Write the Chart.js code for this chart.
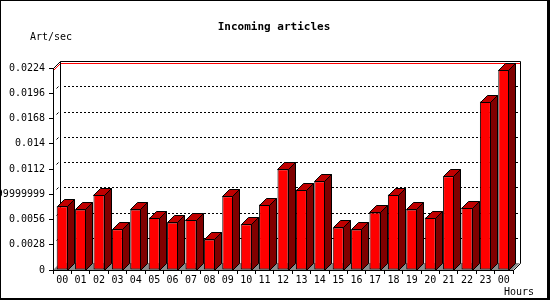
<!DOCTYPE html>
<html>
<head>
<meta charset="utf-8">
<script src="https://cdn.jsdelivr.net/npm/chart.js@4/dist/chart.umd.min.js"></script>
<style>
  html, body { margin: 0; padding: 0; background: #fff; }
  #wrap { width: 550px; height: 300px; }
</style>
</head>
<body>
<div id="wrap"><canvas id="c" width="550" height="300"></canvas></div>
<script>
const titleText = 'Incoming articles';
const yAxisTitle = 'Art/sec';
const xAxisTitle = 'Hours';
const hourLabels = ['00','01','02','03','04','05','06','07','08','09','10','11','12','13','14','15','16','17','18','19','20','21','22','23','00'];
const articlesPerSec = [0.00707,0.00671,0.00836,0.00453,0.00671,0.00582,0.00527,0.00560,0.00339,0.00818,0.00508,0.00726,0.01116,0.00892,0.00983,0.00472,0.00450,0.00638,0.00836,0.00671,0.00582,0.01039,0.00693,0.01868,0.02220];
const yTickValues = [0,0.0028,0.0056,0.0084,0.0112,0.014,0.0168,0.0196,0.0224];
const yTickLabels = ['0','0.0028','0.0056','0.00839999999999','0.0112','0.014','0.0168','0.0196','0.0224'];

const DEPTH = 7;
const MONO = '"DejaVu Sans Mono", monospace';

function px(v) { return Math.round(v) + 0.5; }

const backPlanePlugin = {
  id: 'backPlane',
  beforeDraw(chart) {
    const ctx = chart.ctx;
    const a = chart.chartArea;
    const y = chart.scales.y;
    const L = Math.round(a.left), R = Math.round(a.right), B = Math.round(a.bottom);
    const topY = Math.round(y.getPixelForValue(yTickValues[yTickValues.length - 1]));
    ctx.save();
    ctx.fillStyle = '#fff';
    ctx.fillRect(0, 0, chart.width, chart.height);
    // floor
    ctx.fillStyle = '#8c8c8c';
    ctx.beginPath();
    ctx.moveTo(L, B);
    ctx.lineTo(R, B);
    ctx.lineTo(R + DEPTH, B - DEPTH);
    ctx.lineTo(L + DEPTH, B - DEPTH);
    ctx.closePath();
    ctx.fill();
    ctx.strokeStyle = '#000';
    ctx.lineWidth = 1;
    ctx.beginPath();
    ctx.moveTo(R + 0.5, B + 0.5);
    ctx.lineTo(R + DEPTH + 0.5, B - DEPTH + 0.5);
    ctx.stroke();
    // dotted grid lines on back plane
    ctx.setLineDash([2, 2]);
    for (let i = 1; i < yTickValues.length - 1; i++) {
      const gy = Math.round(y.getPixelForValue(yTickValues[i])) - DEPTH + 0.5;
      ctx.beginPath();
      ctx.moveTo(L + DEPTH + 4, gy);
      ctx.lineTo(R + DEPTH, gy);
      ctx.stroke();
    }
    ctx.setLineDash([]);
    // small diagonal marks at left
    for (let i = 1; i < yTickValues.length - 1; i++) {
      const fy = Math.round(y.getPixelForValue(yTickValues[i]));
      ctx.beginPath();
      ctx.moveTo(L + 3.5, fy - 4.5);
      ctx.lineTo(L + 5.5, fy - 6.5);
      ctx.stroke();
    }
    // max value line (red)
    const maxV = Math.max(...articlesPerSec);
    const my = Math.round(y.getPixelForValue(maxV));
    ctx.strokeStyle = '#ff0000';
    ctx.beginPath();
    ctx.moveTo(L + 0.5, my + 0.5);
    ctx.lineTo(L + DEPTH + 0.5, my - DEPTH + 0.5);
    ctx.lineTo(R + DEPTH + 0.5, my - DEPTH + 0.5);
    ctx.stroke();
    // back frame
    ctx.strokeStyle = '#000';
    ctx.beginPath();
    ctx.moveTo(L + DEPTH + 0.5, B - DEPTH + 0.5);
    ctx.lineTo(L + DEPTH + 0.5, topY - DEPTH + 0.5);
    ctx.lineTo(R + DEPTH + 0.5, topY - DEPTH + 0.5);
    ctx.lineTo(R + DEPTH + 0.5, B - DEPTH + 0.5);
    ctx.moveTo(L + 0.5, topY + 0.5);
    ctx.lineTo(L + DEPTH + 0.5, topY - DEPTH + 0.5);
    ctx.stroke();
    ctx.restore();
  },
  afterDatasetsDraw(chart) {
    const ctx = chart.ctx;
    const meta = chart.getDatasetMeta(0);
    ctx.save();
    ctx.strokeStyle = '#000';
    ctx.lineWidth = 1;
    meta.data.forEach(bar => {
      const p = bar.getProps(['x', 'y', 'base', 'width'], true);
      const l = Math.round(p.x - p.width / 2) + 0.5;
      const r = Math.round(p.x + p.width / 2) - 0.5;
      const t = Math.round(p.y) + 0.5;
      const b = Math.round(p.base) + 0.5;
      // top face
      ctx.fillStyle = '#c00000';
      ctx.beginPath();
      ctx.moveTo(l, t);
      ctx.lineTo(l + DEPTH, t - DEPTH);
      ctx.lineTo(r + DEPTH, t - DEPTH);
      ctx.lineTo(r, t);
      ctx.closePath();
      ctx.fill();
      ctx.stroke();
      // side face
      ctx.fillStyle = '#800000';
      ctx.beginPath();
      ctx.moveTo(r, t);
      ctx.lineTo(r + DEPTH, t - DEPTH);
      ctx.lineTo(r + DEPTH, b - DEPTH);
      ctx.lineTo(r, b);
      ctx.closePath();
      ctx.fill();
      ctx.stroke();
    });
    ctx.restore();
  },
  afterDraw(chart) {
    const ctx = chart.ctx;
    ctx.save();
    ctx.fillStyle = '#000';
    ctx.textBaseline = 'middle';
    ctx.font = 'bold 11px ' + MONO;
    ctx.textAlign = 'center';
    ctx.fillText(titleText, 274, 27);
    ctx.font = '10px ' + MONO;
    ctx.textAlign = 'left';
    ctx.fillText(yAxisTitle, 30, 37);
    ctx.fillText(xAxisTitle, 504, 292);
    // outer border
    ctx.fillRect(0, 0, 550, 1);
    ctx.fillRect(0, 0, 1, 300);
    ctx.fillRect(547, 0, 3, 300);
    ctx.fillRect(0, 298, 550, 2);
    ctx.restore();
  }
};

new Chart(document.getElementById('c'), {
  type: 'bar',
  data: {
    labels: hourLabels,
    datasets: [{
      data: articlesPerSec,
      backgroundColor: '#ff0000',
      borderColor: '#000000',
      borderWidth: 1,
      borderSkipped: false,
      barPercentage: 0.6,
      categoryPercentage: 1.0
    }]
  },
  options: {
    responsive: false,
    devicePixelRatio: 1,
    animation: false,
    layout: { padding: { top: 68, right: 37, bottom: 0, left: 0 } },
    plugins: { legend: { display: false }, title: { display: false }, tooltip: { enabled: false } },
    scales: {
      x: {
        grid: { display: true, drawOnChartArea: false, drawTicks: true, tickLength: 4, color: '#000', offset: true },
        border: { display: true, color: '#000' },
        ticks: { color: '#000', font: { family: MONO, size: 10 }, padding: 0, maxRotation: 0, autoSkip: false },
        afterFit(s) { s.height = 30; }
      },
      y: {
        min: 0,
        max: 0.0224,
        afterBuildTicks(s) { s.ticks = yTickValues.map(v => ({ value: v })); },
        grid: { display: true, drawOnChartArea: false, drawTicks: true, tickLength: 4, color: '#000' },
        border: { display: true, color: '#000' },
        ticks: {
          color: '#000',
          font: { family: MONO, size: 10 },
          padding: 4,
          callback: (v, i) => yTickLabels[i]
        },
        afterFit(s) { s.width = 53; }
      }
    }
  },
  plugins: [backPlanePlugin]
});
</script>
</body>
</html>
